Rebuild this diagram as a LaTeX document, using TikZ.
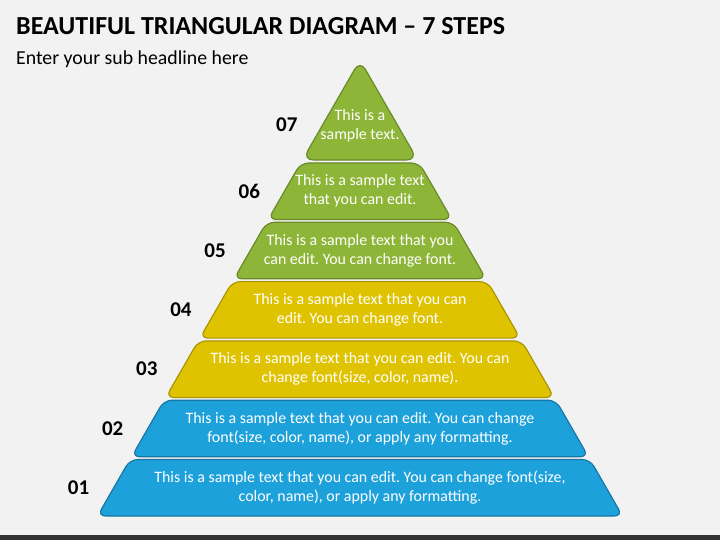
\documentclass[tikz,border=0pt]{standalone}
\usepackage{fontspec}
\setmainfont{Carlito}
\usepackage{xcolor}
\usetikzlibrary{calc}
\frenchspacing

\definecolor{bgG}{RGB}{242,242,242}
\definecolor{barD}{RGB}{51,51,51}
\definecolor{blueF}{RGB}{29,161,219}
\definecolor{blueD}{RGB}{22,118,163}
\definecolor{yelF}{RGB}{224,195,0}
\definecolor{yelD}{RGB}{172,150,0}
\definecolor{grnF}{RGB}{141,181,56}
\definecolor{grnD}{RGB}{106,138,40}

\begin{document}
\begin{tikzpicture}[x=1pt, y=-1pt]
        % ================= 样式定义 =================
        \tikzset{
            layer/.style={line width=1.2pt, rounded corners=8pt},
            blue_layer/.style={layer, fill=blueF, draw=blueD},
            yellow_layer/.style={layer, fill=yelF, draw=yelD},
            green_layer/.style={layer, fill=grnF, draw=grnD},
            steptext/.style={text=white, align=center, font=\fontsize{15.9}{19}\selectfont},
            numlabel/.style={anchor=east, font=\fontsize{21}{24}\selectfont\bfseries}
        }

        % ================= 背景与标题 =================
        \fill[bgG] (0,0) rectangle (720,540);
        \fill[barD] (0,535) rectangle (720,540);
        \node[anchor=base west, inner sep=0pt, font=\fontsize{26}{29}\selectfont\bfseries] (title) at (16,35)
            {BEAUTIFUL TRIANGULAR DIAGRAM – 7 STEPS};
        \node[anchor=base west, inner sep=0pt, font=\fontsize{19.8}{22}\selectfont] (subtitle) at (16,65)
            {Enter your sub headline here};

        % ================= 六层梯形 (01 -- 06) =================
        \foreach \i/\sty in {1/blue_layer,2/blue_layer,3/yellow_layer,4/yellow_layer,5/green_layer,6/green_layer} {
            \pgfmathsetmacro{\yb}{516-(\i-1)*59.3}
            \pgfmathsetmacro{\yt}{\yb-56.5}
            \pgfmathsetmacro{\ym}{\yb-28.25}
            \pgfmathsetmacro{\wb}{(\yb-60)*0.5757}
            \pgfmathsetmacro{\wt}{(\yt-60)*0.5757}
            \pgfmathsetmacro{\wm}{(\ym-60)*0.5757}
            \draw[\sty] (360-\wb,\yb) -- (360-\wt,\yt) -- (360+\wt,\yt) -- (360+\wb,\yb) -- cycle;
            \coordinate (c\i) at (360,\ym);
            \node[numlabel] (n\i) at (360-\wm-21,\ym) {0\i};
        }

        % ================= 顶层三角形 (07) =================
        \draw[green_layer, rounded corners=11pt] (360,60) -- (302.4,160) -- (417.6,160) -- cycle;
        \coordinate (c7) at (360,125.5);
        \node[numlabel] (n7) at (301,125) {07};

        % 各层文字
        \node[steptext] (t1) at (c1) {This is a sample text that you can edit. You can change font(size,\\ color, name), or apply any formatting.};
        \node[steptext] (t2) at (c2) {This is a sample text that you can edit. You can change\\ font(size, color, name), or apply any formatting.};
        \node[steptext] (t3) at (c3) {This is a sample text that you can edit. You can\\ change font(size, color, name).};
        \node[steptext] (t4) at (c4) {This is a sample text that you can\\ edit. You can change font.};
        \node[steptext] (t5) at (c5) {This is a sample text that you\\ can edit. You can change font.};
        \node[steptext] (t6) at (c6) {This is a sample text\\ that you can edit.};
        \node[steptext] (t7) at (c7) {This is a\\ sample text.};
\end{tikzpicture}
\end{document}
